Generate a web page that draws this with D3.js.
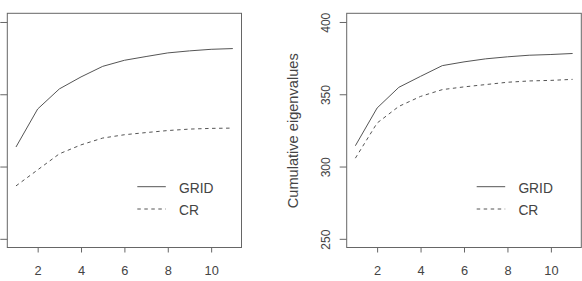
<!DOCTYPE html>
<html>
<head>
<meta charset="utf-8">
<script src="https://cdn.jsdelivr.net/npm/d3@7"></script>
<style>
body { margin: 0; background: #fff; }
text { font-family: "Liberation Sans", Arial, sans-serif; fill: #444; }
</style>
</head>
<body>
<div id="chart"></div>
<script>
var width = 582;
var height = 281;

// x values (number of components)
var components = [1, 2, 3, 4, 5, 6, 7, 8, 9, 10, 11];
var xTicks = [2, 4, 6, 8, 10];
var yTicks = [250, 300, 350, 400];

// left panel
var leftGrid = [313.5, 339.8, 353.7, 362.0, 369.3, 373.5, 376.1, 378.6, 380.0, 381.1, 381.6];
var leftCR = [286.6, 297.7, 308.8, 315.0, 319.7, 322.0, 323.5, 324.9, 325.9, 326.4, 326.6];

// right panel
var rightGrid = [314.4, 340.5, 354.8, 362.4, 369.8, 372.4, 374.5, 375.9, 377.0, 377.5, 378.2];
var rightCR = [305.8, 330.1, 341.6, 348.5, 353.2, 355.1, 356.7, 358.3, 359.2, 359.6, 360.3];

var legendNames = ["GRID", "CR"];

var svg = d3.select("#chart")
    .append("svg")
    .attr("width", width)
    .attr("height", height);

function drawPanel(left, right, grid, cr, showYLabels) {
    var g = svg.append("g");

    var x = d3.scaleLinear().domain([0.6, 11.4]).range([left, right]);
    var y = d3.scaleLinear().domain([244, 406]).range([247.5, 13.3]);

    // box
    g.append("rect")
        .attr("x", x(0.6))
        .attr("y", y(406))
        .attr("width", x(11.4) - x(0.6))
        .attr("height", y(244) - y(406))
        .attr("fill", "none")
        .attr("stroke", "#666")
        .attr("stroke-width", 1);

    // x axis
    var xAxis = g.append("g")
        .attr("transform", "translate(0," + y(244) + ")")
        .call(d3.axisBottom(x).tickValues(xTicks).tickSize(5).tickPadding(13.5));
    xAxis.select(".domain").remove();
    xAxis.selectAll("line").attr("stroke", "#666");
    xAxis.selectAll("text")
        .style("font-family", "Liberation Sans, Arial, sans-serif")
        .style("font-size", "12.8px")
        .attr("fill", "#444");

    // y axis
    var yAxis = g.append("g")
        .attr("transform", "translate(" + x(0.6) + ",0)")
        .call(d3.axisLeft(y).tickValues(yTicks).tickSize(7).tickPadding(0));
    yAxis.select(".domain").remove();
    yAxis.selectAll("line").attr("stroke", "#666");
    yAxis.selectAll("text").remove();

    if (showYLabels) {
        yTicks.forEach(function(v) {
            g.append("text")
                .attr("transform", "translate(" + (x(0.6) - 16.7) + "," + (y(v) + 0.8) + ")rotate(-90)")
                .attr("text-anchor", "middle")
                .style("font-size", "12px")
                .text(v);
        });
        g.append("text")
            .attr("transform", "translate(" + (x(0.6) - 48.4) + "," + 130.8 + ")rotate(-90)")
            .attr("text-anchor", "middle")
            .style("font-size", "14.6px")
            .text("Cumulative eigenvalues");
    }

    var line = d3.line()
        .x(function(d, i) { return x(components[i]); })
        .y(function(d) { return y(d); });

    g.append("path")
        .datum(grid)
        .attr("d", line)
        .attr("fill", "none")
        .attr("stroke", "#555")
        .attr("stroke-width", 1);

    g.append("path")
        .datum(cr)
        .attr("d", line)
        .attr("fill", "none")
        .attr("stroke", "#555")
        .attr("stroke-width", 1)
        .attr("stroke-dasharray", "3.5,3.5");

    // legend
    var lx = x(0.6) + 130;
    legendNames.forEach(function(name, i) {
        var ly = 186.7 + i * 22.3;
        g.append("line")
            .attr("x1", lx)
            .attr("x2", lx + 28.5)
            .attr("y1", ly)
            .attr("y2", ly)
            .attr("stroke", "#555")
            .attr("stroke-width", 1)
            .attr("stroke-dasharray", i == 1 ? "3.5,3.5" : null);
        g.append("text")
            .attr("x", lx + 41.7)
            .attr("y", ly + 6.3)
            .style("font-size", "13.8px")
            .text(name);
    });
}

drawPanel(7.3, 241.5, leftGrid, leftCR, false);
drawPanel(346.7, 581.3, rightGrid, rightCR, true);
</script>
</body>
</html>
